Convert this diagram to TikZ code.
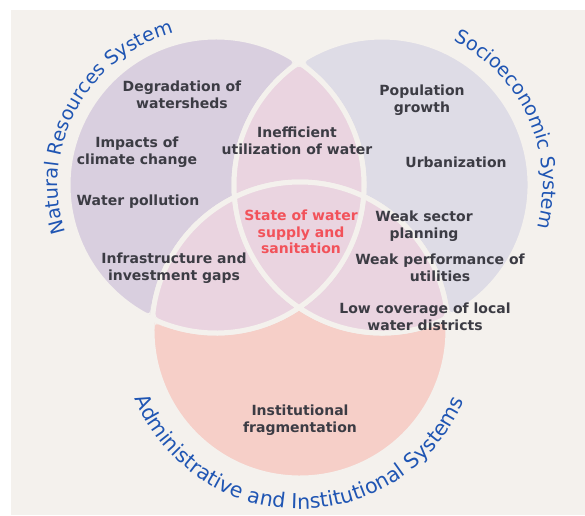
\documentclass[tikz,border=0pt]{standalone}
\usepackage{fontspec}
\setmainfont{DejaVu Sans}
\newfontfamily\blfam{DejaVu Sans}
\usetikzlibrary{decorations.text,calc}
\definecolor{bgc}{HTML}{F4F1ED}
\definecolor{lonly}{HTML}{D9CFDF}
\definecolor{ronly}{HTML}{DEDCE6}
\definecolor{bonly}{HTML}{F6CFC8}
\definecolor{ovl}{HTML}{EAD4E0}
\definecolor{txt}{HTML}{3C3C44}
\definecolor{redt}{HTML}{F2525A}
\definecolor{blu}{HTML}{1F55B3}
% rounded outer corner: corner point, ray 1, ray 2, length
\newcommand\rcorner[4]{\fill[bgc] (#1) -- ($(#1)+(#2:#4)$) .. controls (#1) .. ($(#1)+(#3:#4)$) -- cycle;}
\begin{document}
\begin{tikzpicture}[x=1pt,y=1pt,
  region/.style={fill=#1, draw=bgc, line width=5pt, line join=round},
  lbl/.style={font=\fontsize{14}{16.5}\selectfont\bfseries, text=txt, align=center, inner sep=0pt},
  r/.style={radius=148}]
\useasboundingbox (0,0) rectangle (585,-515);
\fill[bgc] (11,-10) rectangle (585,-515);
\coordinate (L) at (216,-185);
\coordinate (R) at (382,-185);
\coordinate (B) at (300,-330);
\coordinate (T) at (299,-62.46);
\coordinate (LRb) at (299,-307.54);
\coordinate (P2) at (152.43,-318.66);
\coordinate (P1) at (363.57,-196.34);
\coordinate (S) at (447.5,-317.73);
\coordinate (Q) at (234.5,-197.27);
% L only
\path[region=lonly] (T) arc[start angle=55.89, end angle=244.56, r]
  arc[start angle=175.6, end angle=116.26, r]
  arc[start angle=184.76, end angle=124.11, r] -- cycle;
% R only
\path[region=ronly] (S) arc[start angle=-63.74, end angle=124.11, r]
  arc[start angle=55.89, end angle=-4.39, r]
  arc[start angle=64.56, end angle=4.76, r] -- cycle;
% B only
\path[region=bonly] (P2) arc[start angle=175.6, end angle=364.76, r]
  arc[start angle=-63.74, end angle=-124.11, r]
  arc[start angle=-55.89, end angle=-115.44, r] -- cycle;
% L and R
\path[region=ovl] (T) arc[start angle=124.11, end angle=184.76, r]
  arc[start angle=116.26, end angle=64.56, r]
  arc[start angle=-4.39, end angle=55.89, r] -- cycle;
% L and B
\path[region=ovl] (P2) arc[start angle=175.6, end angle=116.26, r]
  arc[start angle=184.76, end angle=235.89, r]
  arc[start angle=-55.89, end angle=-115.44, r] -- cycle;
% R and B
\path[region=ovl] (S) arc[start angle=4.76, end angle=64.56, r]
  arc[start angle=-4.39, end angle=-55.89, r]
  arc[start angle=-124.11, end angle=-63.74, r] -- cycle;
% centre
\path[region=ovl] (Q) arc[start angle=116.26, end angle=64.56, r]
  arc[start angle=-4.39, end angle=-55.89, r]
  arc[start angle=235.89, end angle=184.76, r] -- cycle;
% rounded outer corners
\rcorner{294.54,-62.46}{145.89}{214.11}{10}
\rcorner{299,-65.48}{214.11}{325.89}{8}
\rcorner{303.46,-62.46}{325.89}{394.11}{10}
\rcorner{150.22,-314.84}{85.6}{154.56}{10}
\rcorner{154.65,-322.48}{265.6}{334.56}{10}
\rcorner{155.05,-317.14}{334.56}{445.6}{8}
\rcorner{449.69,-313.87}{26.26}{94.76}{10}
\rcorner{444.87,-316.24}{94.76}{206.26}{8}
\rcorner{445.31,-321.59}{206.26}{274.76}{10}
% labels
\node[lbl] (degr) at (182,-95) {Degradation of\\watersheds};
\node[lbl] (clim) at (137,-152) {Impacts of\\climate change};
\node[lbl] (poll) at (138,-202) {Water pollution};
\node[lbl] (ineff) at (297,-141) {Inefficient\\utilization of water};
\node[lbl] (pop) at (422,-100) {Population\\growth};
\node[lbl] (urb) at (456,-162) {Urbanization};
\node[lbl, text=redt] (state) at (301,-232) {State of water\\supply and\\sanitation};
\node[lbl] (plan) at (424,-226) {Weak sector\\planning};
\node[lbl] (infra) at (174,-268) {Infrastructure and\\investment gaps};
\node[lbl] (util) at (440,-268) {Weak performance of\\utilities};
\node[lbl] (cov) at (425,-317) {Low coverage of local\\water districts};
\node[lbl] (inst) at (300,-420) {Institutional\\fragmentation};
% curved system names
\path[decorate, decoration={text along path, text align=center, text color=blu,
  text={|\blfam\fontsize{19.2}{23}\selectfont|Natural Resources System}}]
  (L) ++(226.5:158) arc[start angle=226.5, end angle=76.5, radius=158];
\path[decorate, decoration={text along path, text align=center, text color=blu,
  text={|\blfam\fontsize{19.2}{23}\selectfont|Socioeconomic System}}]
  (R) ++(99:161) arc[start angle=99, end angle=-51, radius=161];
\path[decorate, decoration={text along path, text align=center, text color=blu,
  text={|\blfam\fontsize{20.6}{24}\selectfont|Administrative and Institutional Systems}}]
  (B) ++(184.5:179) arc[start angle=184.5, end angle=354.5, radius=179];
\end{tikzpicture}
\end{document}
